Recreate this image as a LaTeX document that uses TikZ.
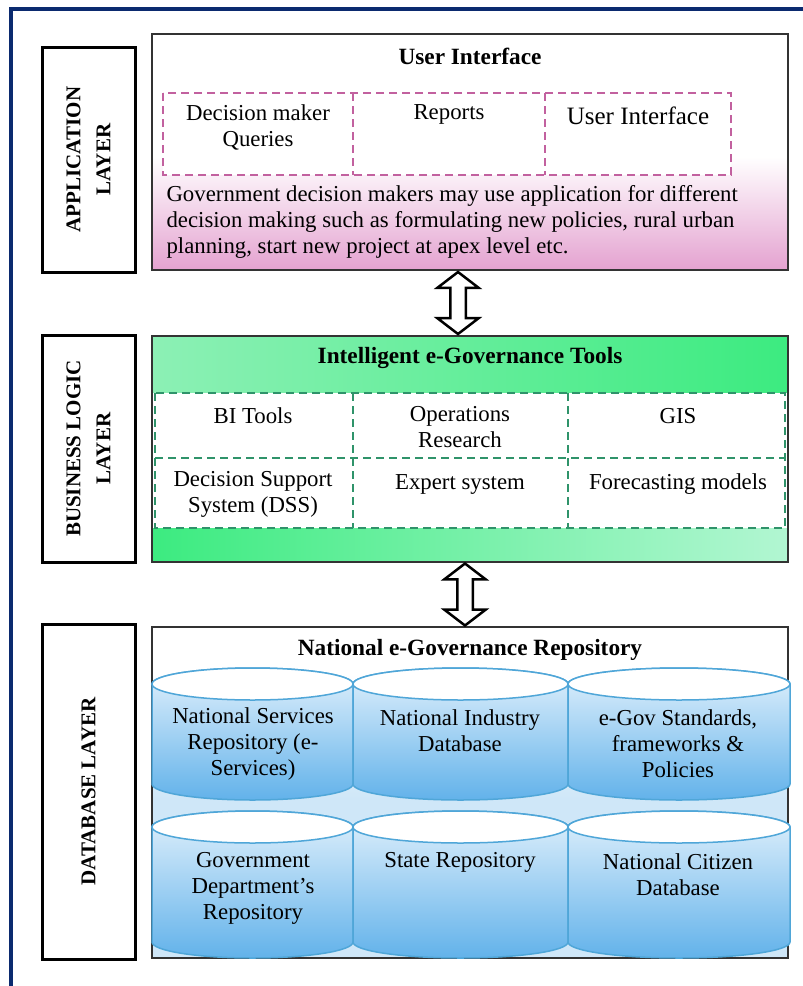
\documentclass[tikz,border=0pt]{standalone}
\usepackage{fontspec}
\setmainfont{Liberation Serif}
\usetikzlibrary{positioning,calc,shapes.arrows,shadows}
\definecolor{frameblue}{HTML}{0B2A6F}
\definecolor{uipink}{HTML}{E4A2D0}
\definecolor{uidash}{HTML}{C2619F}
\definecolor{toolbright}{HTML}{3CEB80}
\definecolor{toolmid}{HTML}{8CF0B5}
\definecolor{toolpale}{HTML}{B2F6D2}
\definecolor{tooldash}{HTML}{2F936A}
\definecolor{cylline}{HTML}{4FA6D8}
\definecolor{cyltop}{HTML}{E2F1FC}
\definecolor{cylbot}{HTML}{62B2EA}
\definecolor{repoblue}{HTML}{CFE7F8}
\pgfdeclareverticalshading{uishade}{100bp}{color(0bp)=(uipink); color(25bp)=(uipink); color(49bp)=(white); color(100bp)=(white)}
\pgfdeclareverticalshading{reposhade}{100bp}{color(0bp)=(repoblue); color(49bp)=(repoblue); color(68bp)=(white); color(100bp)=(white)}
\tikzset{
  layerbox/.style={draw=black,line width=3pt,fill=white,rotate=90,minimum width=#1,minimum height=93pt,align=center,
    font=\fontsize{21}{30}\selectfont\bfseries,drop shadow={shadow xshift=2pt,shadow yshift=-2pt,fill=black!20}},
  mainbox/.style={draw=black!80,line width=2.5pt,minimum width=636pt,inner sep=0pt},
  boxtitle/.style={font=\fontsize{23.3}{27}\selectfont\bfseries},
  celltext/.style={align=center},
  uidashed/.style={draw=uidash,line width=1.8pt,dash pattern=on 8pt off 5pt},
  tooldashed/.style={draw=tooldash,line width=1.8pt,dash pattern=on 8pt off 5pt},
  cylbody/.style={draw=cylline,line width=1.5pt,top color=cyltop,bottom color=cylbot},
  cyllid/.style={draw=cylline,line width=1.5pt,fill=white},
  dblarrow/.style={draw=black,line width=2.5pt,fill=white,shape=double arrow,rotate=90,minimum height=62pt,
    inner sep=6.5pt,double arrow head extend=13pt,double arrow tip angle=105}
}
\begin{document}
\begin{tikzpicture}[x=1pt,y=-1pt,font=\fontsize{22.8}{26}\selectfont]
  \useasboundingbox (0,0) rectangle (803,986);
  \draw[frameblue,line width=3.5pt] (11,9) rectangle (840,1020);

  % layer labels
  \node[layerbox=225pt] (applayer) at (88.5,159.5) {APPLICATION\\LAYER};
  \node[layerbox=227pt] (bizlayer) at (88.5,448.5) {BUSINESS LOGIC\\LAYER};
  \node[layerbox=335pt] (dblayer) at (88.5,791.5) {DATABASE LAYER};

  % application layer
  \node[mainbox,minimum height=236pt,shading=uishade] (app) at (470,152) {};
  \node[boxtitle] (apptitle) at (470,56) {User Interface};
  \draw[uidashed,fill=white] (163,93) rectangle (731,175);
  \draw[uidashed] (353,93) -- (353,175) (545,93) -- (545,175);
  \node[celltext] (qry) at (258,127) {Decision maker\\Queries};
  \node[celltext] (rep) at (449,114) {Reports};
  \node[celltext,font=\fontsize{25}{28}\selectfont] (uic) at (638,116) {User Interface};
  \node[anchor=north west,align=flush left] (appnote) at (163,182) {Government decision makers may use application for different\\
     decision making such as formulating new policies, rural urban\\planning, start new project at apex level etc.};

  % business logic layer
  \fill[left color=toolmid,right color=toolbright] (152,336) rectangle (788,393);
  \fill[left color=toolbright,right color=toolpale] (152,528) rectangle (788,562);
  \fill[white] (152,393) rectangle (788,528);
  \node[mainbox,minimum height=226pt] (biz) at (470,449) {};
  \draw[tooldashed] (155,393) rectangle (785,528) (155,458) -- (785,458) (353,393) -- (353,528) (568,393) -- (568,528);
  \node[boxtitle] (biztitle) at (470,358) {Intelligent e-Governance Tools};
  \node[celltext] (bitools) at (253,416) {BI Tools};
  \node[celltext] (opres) at (460,427) {Operations\\Research};
  \node[celltext] (gis) at (678,416) {GIS};
  \node[celltext] (dss) at (253,494) {Decision Support\\System (DSS)};
  \node[celltext] (expert) at (460,484) {Expert system};
  \node[celltext] (fcast) at (678,484) {Forecasting models};

  % database layer
  \node[mainbox,minimum height=331pt,shading=reposhade] (db) at (470,792.5) {};
  \node[boxtitle] (dbtitle) at (470,650) {National e-Governance Repository};
  \foreach \l/\r/\t/\b in {152/353/668/800,353/568/668/800,568/790/668/800,152/353/811/958,353/568/811/958,568/790/811/958}{
    \path[cylbody] (\l,\t+16) -- (\l,\b-16) arc[start angle=180,end angle=0,x radius={(\r-\l)/2},y radius=16]
      -- (\r,\t+16) arc[start angle=0,end angle=-180,x radius={(\r-\l)/2},y radius=16] -- cycle;
    \draw[cyllid] ({(\l+\r)/2},\t+16) ellipse [x radius={(\r-\l)/2},y radius=16];
  }
  \node[celltext] (nsr) at (253,744) {National Services\\Repository (e-\\Services)};
  \node[celltext] (nid) at (460,731) {National Industry\\Database};
  \node[celltext] (std) at (678,744) {e-Gov Standards,\\frameworks \&\\Policies};
  \node[celltext] (gdr) at (253,888) {Government\\Department’s\\Repository};
  \node[celltext] (str) at (460,862) {State Repository};
  \node[celltext] (ncd) at (678,875) {National Citizen\\Database};

  % links between layers
  \node[dblarrow] (appbiz) at ($(app.south)!0.5!(biz.north)+(-12,0)$) {};
  \node[dblarrow] (bizdb) at ($(biz.south)!0.5!(db.north)+(-5,0)$) {};
\end{tikzpicture}
\end{document}
